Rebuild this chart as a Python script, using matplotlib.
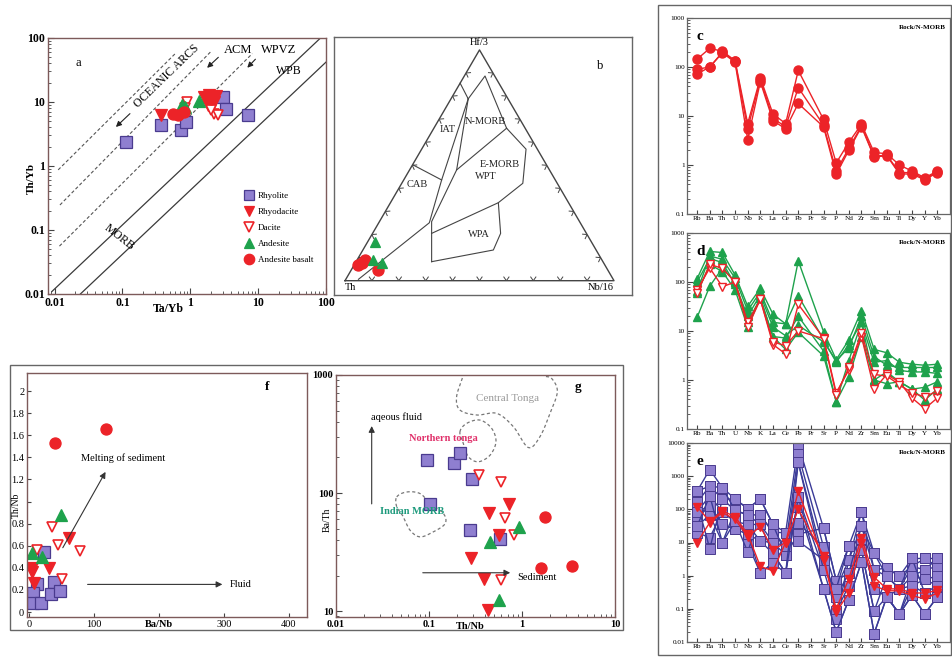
import numpy as np
import matplotlib
matplotlib.use('Agg')
import matplotlib.pyplot as plt
from matplotlib.patches import Rectangle
from matplotlib.lines import Line2D
from matplotlib.ticker import LogLocator, NullFormatter, FuncFormatter, FixedLocator

plt.rcParams['font.family'] = ['Liberation Serif', 'DejaVu Serif']

# ---------------- data ----------------
nan = np.nan

# (a) Th/Yb vs Ta/Yb
a_rhyolite_ta_yb = [0.114, 0.376, 0.72, 0.86, 3.07, 3.36, 7.0]
a_rhyolite_th_yb = [2.35, 4.4, 3.7, 4.9, 12.1, 7.7, 6.3]
a_rhyodacite_ta_yb = [0.37, 1.6, 1.9, 2.2, 1.8, 2.4]
a_rhyodacite_th_yb = [6.3, 12.0, 13.0, 10.0, 9.0, 12.5]
a_dacite_ta_yb = [0.9, 0.85, 2.2, 2.6, 2.0]
a_dacite_th_yb = [10.0, 8.0, 6.5, 6.2, 7.5]
a_andesite_ta_yb = [0.76, 1.35, 0.85]
a_andesite_th_yb = [9.0, 10.5, 8.5]
a_basalt_ta_yb = [0.55, 0.65, 0.8, 2.0]
a_basalt_th_yb = [6.6, 6.3, 7.0, 11.0]
a_array_lines = [((0.0091, 0.0109), (83.0, 100.0)), ((0.024, 0.01), (100.0, 42.0))]
a_arc_lines = [((0.0113, 0.87), (0.6, 57.0)), ((0.012, 0.246), (2.0, 61.0)), ((0.0118, 0.056), (8.2, 57.0))]

# (b) Th - Hf/3 - Nb/16 ternary (fractions Th, Hf/3, Nb/16)
b_basalt_th = [0.917, 0.881, 0.853, 0.900]
b_basalt_hf = [0.067, 0.089, 0.046, 0.075]
b_basalt_nb = [0.016, 0.030, 0.101, 0.025]
b_andesite_th = [0.805, 0.850, 0.826]
b_andesite_hf = [0.167, 0.089, 0.075]
b_andesite_nb = [0.028, 0.061, 0.099]
# field boundaries, vertices as (Th, Hf/3, Nb/16)
b_fields = [
    [(0.144, 0.856, 0.000), (0.148, 0.788, 0.064)],
    [(0.148, 0.788, 0.064), (0.4225, 0.4365, 0.141), (0.561, 0.251, 0.188), (0.947, 0.006, 0.047)],
    [(0.496, 0.5015, 0.003), (0.4225, 0.4365, 0.141)],
    [(0.148, 0.788, 0.064), (0.036, 0.887, 0.077), (0.069, 0.661, 0.2705)],
    [(0.069, 0.661, 0.2705), (0.042, 0.570, 0.388), (0.128, 0.422, 0.450), (0.261, 0.338, 0.401),
     (0.319, 0.205, 0.476), (0.382, 0.133, 0.485), (0.637, 0.0824, 0.281)],
    [(0.148, 0.788, 0.064), (0.345, 0.480, 0.175), (0.550, 0.256, 0.194), (0.637, 0.0824, 0.281)],
    [(0.069, 0.661, 0.2705), (0.345, 0.480, 0.175)],
    [(0.5755, 0.205, 0.2195), (0.261, 0.338, 0.401)],
]

# (c-e) N-MORB normalised spider diagrams
elements = ['Rb', 'Ba', 'Th', 'U', 'Nb', 'K', 'La', 'Ce', 'Pb', 'Pr',
            'Sr', 'P', 'Nd', 'Zr', 'Sm', 'Eu', 'Ti', 'Dy', 'Y', 'Yb']
c_basalt = [
    [145, 240, 210, 135, 7.0, 60, 11, 7.0, 85, nan, 8.5, 1.1, 2.9, 6.8, 1.8, 1.7, 1.0, 0.75, 0.55, 0.75],
    [90, 100, 200, 130, 5.5, 55, 9.0, 6.0, 38, nan, 6.5, 0.75, 2.2, 6.3, 1.5, 1.6, 0.70, 0.70, 0.52, 0.72],
    [72, 100, 195, 125, 3.3, 50, 8.0, 5.5, 18, nan, 6.0, 0.65, 2.0, 6.0, 1.45, 1.55, 0.66, 0.65, 0.50, 0.70],
]
d_andesite = [
    [117, 420, 400, 139, 32, 74, 22, 14, 270, nan, 9.7, 2.6, 6.6, 26, 4.2, 3.6, 2.3, 2.1, 2.0, 2.1],
    [64, 340, 290, 120, 26, 63, 15, 14, 52, nan, 6.7, 2.3, 5.3, 15, 2.3, 2.5, 1.57, 1.46, 1.46, 1.36],
    [19, 82, 193, 100, 15, 47, 7.7, 7.2, 20, nan, 3.9, 0.36, 2.5, 15, 1.0, 1.46, 0.92, 0.65, 0.71, 0.92],
    [59, 228, 163, 69, 12, 47, 7.7, 4.2, 9.4, nan, 3.1, 0.36, 1.16, 7.7, 1.0, 0.84, 0.92, 0.65, 0.39, 0.65],
    [100, 300, 250, 90, 20, 55, 12, 8.0, 13, nan, 6.0, 2.5, 4.5, 20, 3.0, 2.0, 1.8, 1.8, 1.8, 1.8],
]
d_dacite = [
    [69, 193, 80, 100, 15, 44, 5.3, 3.4, 35, nan, 7.2, 0.55, 1.6, 7.7, 0.65, 1.3, 0.9, 0.43, 0.26, 0.43],
    [59, 228, 190, 100, 12, 44, 6.0, 5.0, 10, nan, 7.0, 0.5, 1.8, 9.0, 1.3, 1.2, 0.8, 0.55, 0.45, 0.6],
]
e_rhyolite = [
    [355, 1580, 450, 205, 105, 205, 35, 20, 8900, nan, 27, 0.71, 8.0, 83, 4.7, 1.7, 0.97, 3.3, 3.3, 3.3],
    [163, 500, 205, 93, 68, 68, 20, 8.0, 4600, nan, 7.3, 0.4, 3.0, 31, 1.5, 0.97, 0.4, 1.9, 1.5, 1.9],
    [83, 257, 83, 43, 35, 35, 10, 4.2, 2600, nan, 3.0, 0.23, 1.2, 13, 0.4, 0.23, 0.07, 0.97, 0.77, 0.97],
    [53, 130, 35, 25, 18, 11, 4.7, 1.2, 230, nan, 1.5, 0.085, 0.5, 5.8, 0.085, 0.97, 0.4, 0.5, 0.3, 0.5],
    [31, 68, 10, 93, 9.0, 1.2, 2.4, 8.0, 118, nan, 0.4, 0.02, 0.19, 2.6, 0.018, 0.23, 0.07, 0.26, 0.07, 0.23],
    [20, 14, 83, 43, 5.2, 68, 20, 20, 38, nan, 7.3, 0.048, 3.0, 83, 1.5, 1.7, 0.97, 1.9, 3.3, 1.9],
    [163, 6.5, 205, 205, 105, 205, 35, 4.2, 18, nan, 27, 0.71, 1.2, 31, 4.7, 0.97, 0.4, 0.97, 1.5, 3.3],
    [83, 130, 35, 25, 35, 11, 10, 8.0, 11, nan, 3.0, 0.23, 0.5, 13, 0.4, 0.23, 0.07, 0.5, 0.77, 0.5],
    [355, 500, 450, 93, 68, 35, 4.7, 1.2, 2600, nan, 1.5, 0.4, 8.0, 5.8, 0.085, 0.23, 0.4, 3.3, 0.3, 0.23],
    [31, 257, 10, 43, 18, 1.2, 2.4, 1.2, 230, nan, 0.4, 0.02, 0.19, 2.6, 0.018, 0.23, 0.07, 0.26, 0.07, 0.23],
]
e_rhyodacite = [
    [120, 43, 90, 60, 18, 1.9, 1.4, 10, 355, nan, 3.0, 0.1, 0.8, 14, 0.9, 0.4, 0.4, 0.3, 0.3, 0.36],
    [10, 40, 80, 50, 15, 30, 6.0, 10, 100, nan, 4.0, 0.08, 0.3, 10, 0.5, 0.35, 0.35, 0.25, 0.2, 0.3],
]

# (f) Th/Nb vs Ba/Nb
f_basalt_ba_nb = [40, 118]
f_basalt_th_nb = [1.53, 1.66]
f_andesite_ba_nb = [49, 5, 19.5]
f_andesite_th_nb = [0.88, 0.53, 0.50]
f_dacite_ba_nb = [12, 36, 44, 78, 51]
f_dacite_th_nb = [0.56, 0.77, 0.61, 0.55, 0.30]
f_rhyodacite_ba_nb = [62, 31, 4, 5, 8]
f_rhyodacite_th_nb = [0.67, 0.40, 0.40, 0.36, 0.26]
f_rhyolite_ba_nb = [23.5, 13, 7, 5.5, 18, 39, 34, 48]
f_rhyolite_th_nb = [0.54, 0.25, 0.17, 0.08, 0.08, 0.27, 0.16, 0.19]

# (g) Ba/Th vs Th/Nb
g_rhyolite_th_nb = [0.096, 0.186, 0.215, 0.288, 0.103, 0.276, 0.58]
g_rhyolite_ba_th = [192, 180, 219, 131, 81, 49, 40.6]
g_dacite_th_nb = [0.347, 0.59, 0.66, 0.82, 0.60]
g_dacite_ba_th = [142, 123, 61, 44, 18.2]
g_rhyodacite_th_nb = [0.73, 0.44, 0.57, 0.28, 0.39, 0.43]
g_rhyodacite_ba_th = [81, 68, 44, 28.4, 18.5, 10.3]
g_andesite_th_nb = [0.92, 0.45, 0.57]
g_andesite_ba_th = [52, 38.6, 12.5]
g_basalt_th_nb = [1.77, 1.6, 3.47]
g_basalt_ba_th = [63, 23.3, 23.9]
g_central_tonga_x = [0.25, 0.234, 0.198, 0.215, 0.326, 0.535, 0.807, 1.17, 1.56, 2.0, 2.4, 2.08, 1.69, 1.6]
g_central_tonga_y = [1300, 1000, 655, 505, 458, 473, 365, 243, 300, 473, 723, 937, 1000, 1300]
g_northern_tonga_x = [0.215, 0.254, 0.353, 0.472, 0.525, 0.453, 0.339, 0.265, 0.234]
g_northern_tonga_y = [330, 389, 415, 353, 272, 209, 184, 203, 263]
g_indian_morb_x = [0.045, 0.0575, 0.080, 0.103, 0.143, 0.149, 0.111, 0.080, 0.0625, 0.053, 0.045]
g_indian_morb_y = [92.7, 102, 99, 81.5, 67, 55, 46.8, 42.5, 48.4, 62.8, 76.4]

# ---------------- styles ----------------
PURPLE = '#8f7fd0'
PURPLE_EDGE = '#4a3b8f'
RED = '#ec2328'
GREEN = '#1ea24c'
NAVY = '#3b3b98'
SPINE = '#7d5a5a'

W, H = 952, 662
fig = plt.figure(figsize=(W / 100, H / 100), dpi=100)
fig.patch.set_facecolor('white')


def rect(x0, y0, x1, y1):
    return [x0 / W, 1 - y1 / H, (x1 - x0) / W, (y1 - y0) / H]


def style_spines(ax, color=SPINE, lw=1.0):
    for s in ax.spines.values():
        s.set_color(color)
        s.set_linewidth(lw)


def sym(kind):
    if kind == 'rhyolite':
        return dict(marker='s', mfc=PURPLE, mec=PURPLE_EDGE, mew=0.9)
    if kind == 'rhyodacite':
        return dict(marker='v', mfc=RED, mec=RED, mew=0.9)
    if kind == 'dacite':
        return dict(marker='v', mfc='white', mec=RED, mew=1.2)
    if kind == 'andesite':
        return dict(marker='^', mfc=GREEN, mec=GREEN, mew=0.9)
    return dict(marker='o', mfc=RED, mec=RED, mew=0.9)


def smooth(xs, ys, closed=False, n=16):
    # Catmull-Rom curve through the vertices, computed in log space
    P = np.column_stack([np.log10(xs), np.log10(ys)])
    if closed:
        P = np.vstack([P[-1], P, P[0], P[1]])
    else:
        P = np.vstack([P[0], P, P[-1]])
    out = []
    for i in range(1, len(P) - 2):
        p0, p1, p2, p3 = P[i - 1], P[i], P[i + 1], P[i + 2]
        for t in np.linspace(0, 1, n, endpoint=False):
            t2, t3 = t * t, t * t * t
            out.append(0.5 * ((2 * p1) + (-p0 + p2) * t + (2 * p0 - 5 * p1 + 4 * p2 - p3) * t2
                              + (-p0 + 3 * p1 - 3 * p2 + p3) * t3))
    out.append(P[-2])
    out = np.array(out)
    return 10 ** out[:, 0], 10 ** out[:, 1]


# outer frames
fig.patches.append(Rectangle((10, H - 630), 613, 265, transform=None, fill=False,
                             ec='#666666', lw=1.0))
fig.patches.append(Rectangle((658, H - 655), 293, 650, transform=None, fill=False,
                             ec='#666666', lw=1.0))

# ================= panel a =================
axa = fig.add_axes(rect(48, 38, 326, 294))
axa.set_xscale('log')
axa.set_yscale('log')
axa.set_xlim(0.008, 100)
axa.set_ylim(0.01, 100)
style_spines(axa)
for (x0, y0), (x1, y1) in a_array_lines:
    axa.plot([x0, x1], [y0, y1], color='#3a3a3a', lw=0.9)
for (x0, y0), (x1, y1) in a_arc_lines:
    axa.plot([x0, x1], [y0, y1], color='#555555', lw=0.8, ls=(0, (3, 2)))
axa.plot(a_rhyolite_ta_yb, a_rhyolite_th_yb, ls='none', ms=8, **sym('rhyolite'))
axa.plot(a_rhyodacite_ta_yb, a_rhyodacite_th_yb, ls='none', ms=8, **sym('rhyodacite'))
axa.plot(a_dacite_ta_yb, a_dacite_th_yb, ls='none', ms=7.5, **sym('dacite'))
axa.plot(a_andesite_ta_yb, a_andesite_th_yb, ls='none', ms=8, **sym('andesite'))
axa.plot(a_basalt_ta_yb, a_basalt_th_yb, ls='none', ms=8, **sym('basalt'))
axa.xaxis.set_major_locator(FixedLocator([0.01, 0.1, 1, 10, 100]))
axa.xaxis.set_major_formatter(FuncFormatter(lambda v, p: '%g' % v))
axa.yaxis.set_major_locator(FixedLocator([0.01, 0.1, 1, 10, 100]))
axa.yaxis.set_major_formatter(FuncFormatter(lambda v, p: '%g' % v))
for ax_ in (axa.xaxis, axa.yaxis):
    ax_.set_minor_locator(LogLocator(base=10, subs=np.arange(2, 10)))
    ax_.set_minor_formatter(NullFormatter())
axa.tick_params(which='both', direction='in', labelsize=8.5, pad=2, color='#444444')
axa.tick_params(which='major', length=4)
axa.tick_params(which='minor', length=2)
for lab in axa.get_xticklabels() + axa.get_yticklabels():
    lab.set_fontweight('bold')
axa.text(0.49, -0.035, 'Ta/Yb', transform=axa.transAxes, ha='right', va='top',
         fontsize=8.5, fontweight='bold')
axa.text(-0.045, 0.45, 'Th/Yb', transform=axa.transAxes, rotation=90, ha='right',
         va='center', fontsize=8, fontweight='bold')
axa.text(0.108, 0.902, 'a', transform=axa.transAxes, fontsize=9, ha='center', va='center')
axa.text(0.428, 0.852, 'OCEANIC ARCS', transform=axa.transAxes, fontsize=8.5,
         rotation=44, ha='center', va='center')
axa.text(0.683, 0.953, 'ACM', transform=axa.transAxes, fontsize=9, ha='center', va='center')
axa.text(0.83, 0.953, 'WPVZ', transform=axa.transAxes, fontsize=9, ha='center', va='center')
axa.text(0.865, 0.873, 'WPB', transform=axa.transAxes, fontsize=8.5, ha='center', va='center')
axa.text(0.255, 0.222, 'MORB', transform=axa.transAxes, fontsize=8.5, rotation=-38,
         ha='center', va='center')
for (x0, y0), (x1, y1) in [((0.302, 0.712), (0.237, 0.645)),
                           ((0.62, 0.932), (0.565, 0.876)),
                           ((0.753, 0.925), (0.71, 0.876))]:
    axa.annotate('', xy=(x1, y1), xytext=(x0, y0), xycoords='axes fraction',
                 arrowprops=dict(arrowstyle='-|>', color='#222222', lw=0.8,
                                 mutation_scale=8))
handles = [Line2D([], [], ls='none', ms=7.5, label='Rhyolite', **sym('rhyolite')),
           Line2D([], [], ls='none', ms=7.5, label='Rhyodacite', **sym('rhyodacite')),
           Line2D([], [], ls='none', ms=7.5, label='Dacite', **sym('dacite')),
           Line2D([], [], ls='none', ms=7.5, label='Andesite', **sym('andesite')),
           Line2D([], [], ls='none', ms=7.5, label='Andesite basalt', **sym('basalt'))]
axa.legend(handles=handles, loc='upper left', bbox_to_anchor=(0.69, 0.415), frameon=False,
           fontsize=6.5, handletextpad=0.4, labelspacing=0.85, borderaxespad=0,
           handlelength=1.2)

# ================= panel b =================
axb = fig.add_axes(rect(334, 37, 632, 295))
axb.set_xlim(-0.0409, 1.0669)
axb.set_ylim(-0.062, 1.056)
axb.set_xticks([])
axb.set_yticks([])
style_spines(axb, '#666666', 1.0)
PXX, PXY = 269.0, 230.7


def tern(th, hf, nb):
    th, hf, nb = np.asarray(th, float), np.asarray(hf, float), np.asarray(nb, float)
    s = th + hf + nb
    hf, nb = hf / s, nb / s
    return nb + hf / 2, hf


axb.plot([0, 1, 0.5, 0], [0, 0, 1, 0], color='#444444', lw=1.0)
for poly in b_fields:
    x, y = tern(*zip(*poly))
    axb.plot(x, y, color='#444444', lw=0.8)
# chevron ticks along the sides
sides = [((0, 0), (1, 0)), ((0, 0), (0.5, 1)), ((1, 0), (0.5, 1))]
centroid = np.array([0.5, 1 / 3])
for (ax0, ay0), (ax1, ay1) in sides:
    d = np.array([(ax1 - ax0) * PXX, (ay1 - ay0) * PXY])
    d /= np.hypot(*d)
    nrm = np.array([-d[1], d[0]])
    mid = np.array([(ax0 + ax1) / 2 * PXX, (ay0 + ay1) / 2 * PXY])
    if np.dot(centroid * [PXX, PXY] - mid, nrm) < 0:
        nrm = -nrm
    for t in np.arange(1, 10) / 10:
        p = np.array([ax0 + (ax1 - ax0) * t, ay0 + (ay1 - ay0) * t])
        for ang in (35, -35):
            a = np.deg2rad(ang)
            v = np.array([nrm[0] * np.cos(a) - nrm[1] * np.sin(a),
                          nrm[0] * np.sin(a) + nrm[1] * np.cos(a)]) * 4.5
            axb.plot([p[0] + v[0] / PXX * 0.2, p[0] + v[0] / PXX],
                     [p[1] + v[1] / PXY * 0.2, p[1] + v[1] / PXY], color='#444444', lw=0.7)
bx, by = tern(b_basalt_th, b_basalt_hf, b_basalt_nb)
axb.plot(bx, by, ls='none', ms=8, **sym('basalt'))
bx, by = tern(b_andesite_th, b_andesite_hf, b_andesite_nb)
axb.plot(bx, by, ls='none', ms=7.5, **sym('andesite'))
tk = dict(fontsize=7.5, ha='center', va='center', color='#222222')
axb.text(0.5, 1.012, 'Hf/3', fontsize=7.5, ha='center', va='bottom')
axb.text(0.0, -0.012, 'Th', fontsize=7.5, ha='left', va='top')
axb.text(1.0, -0.012, 'Nb/16', fontsize=7.5, ha='right', va='top')
axb.text(0.948, 0.931, 'b', fontsize=9, ha='center', va='center')
axb.text(0.383, 0.653, 'IAT', **tk)
axb.text(0.52, 0.692, 'N-MORB', **tk)
axb.text(0.575, 0.505, 'E-MORB', **tk)
axb.text(0.525, 0.452, 'WPT', **tk)
axb.text(0.27, 0.415, 'CAB', **tk)
axb.text(0.498, 0.202, 'WPA', **tk)

# ================= panels c, d, e =================
idx = np.arange(len(elements))


def spider(rect_px, samples_styles, ylim, letter):
    ax = fig.add_axes(rect(*rect_px))
    ax.set_yscale('log')
    ax.set_xlim(-0.8, 20.0)
    ax.set_ylim(*ylim)
    style_spines(ax, '#666666', 0.9)
    for samples, color, mk, ms in samples_styles:
        for s in samples:
            v = np.asarray(s, float)
            ok = ~np.isnan(v)
            ax.plot(idx[ok], v[ok], color=color, lw=1.0, ms=ms, **mk)
    ax.set_xticks(idx)
    ax.set_xticklabels(elements, fontsize=5.2)
    decades = 10.0 ** np.arange(np.log10(ylim[0]), np.log10(ylim[1]) + 1)
    ax.yaxis.set_major_locator(FixedLocator(decades))
    ax.yaxis.set_major_formatter(FuncFormatter(lambda v, p: '%g' % v))
    ax.yaxis.set_minor_locator(LogLocator(base=10, subs=np.arange(2, 10)))
    ax.yaxis.set_minor_formatter(NullFormatter())
    ax.tick_params(which='both', direction='in', labelsize=5.2, pad=1.5, color='#444444')
    ax.tick_params(axis='x', length=3, pad=1.5)
    ax.tick_params(axis='y', which='major', length=4)
    ax.tick_params(axis='y', which='minor', length=2)
    ax.text(0.985, 0.965, 'Rock/N-MORB', transform=ax.transAxes, fontsize=5,
            ha='right', va='top', fontweight='bold')
    ax.text(0.05, 0.94, letter, transform=ax.transAxes, fontsize=11, fontweight='bold',
            ha='center', va='top')
    return ax


spider((687, 18, 950, 214),
       [(c_basalt, RED, dict(marker='o', mfc=RED, mec=RED), 6.5)], (0.1, 1000), 'c')
spider((687, 233, 950, 429),
       [(d_andesite, GREEN, dict(marker='^', mfc=GREEN, mec=GREEN), 6),
        (d_dacite, RED, dict(marker='v', mfc='white', mec=RED, mew=1.0), 6)],
       (0.1, 1000), 'd')
spider((687, 443, 950, 642),
       [(e_rhyolite, NAVY, dict(marker='s', mfc=PURPLE, mec=PURPLE_EDGE, mew=0.7), 6.5),
        (e_rhyodacite, RED, dict(marker='v', mfc=RED, mec=RED), 6)],
       (0.01, 10000), 'e')

# ================= panel f =================
axf = fig.add_axes(rect(27, 373, 307, 617))
axf.set_xlim(-3, 428)
axf.set_ylim(-0.045, 2.163)
style_spines(axf)
axf.plot(f_rhyolite_ba_nb, f_rhyolite_th_nb, ls='none', ms=8, **sym('rhyolite'))
axf.plot(f_rhyodacite_ba_nb, f_rhyodacite_th_nb, ls='none', ms=8, **sym('rhyodacite'))
axf.plot(f_dacite_ba_nb, f_dacite_th_nb, ls='none', ms=7.5, **sym('dacite'))
axf.plot(f_andesite_ba_nb, f_andesite_th_nb, ls='none', ms=8, **sym('andesite'))
axf.plot(f_basalt_ba_nb, f_basalt_th_nb, ls='none', ms=8, **sym('basalt'))
f_yticks = np.round(np.arange(0, 2.01, 0.2), 1)
axf.set_yticks(f_yticks)
axf.set_yticklabels(['' if v == 1.0 else '%g' % v for v in f_yticks])
axf.set_xticks([0, 100, 200, 300, 400])
axf.set_xticklabels(['0', '100', 'Ba/Nb', '300', '400'])
axf.get_xticklabels()[2].set_fontweight('bold')
axf.tick_params(direction='in', labelsize=7.5, pad=2, length=3, color='#444444')
fig.text(16 / W, 1 - 505 / H, 'Th/Nb', rotation=90, fontsize=7, ha='center', va='center')
axf.annotate('', xy=(120, 1.29), xytext=(50, 0.56),
             arrowprops=dict(arrowstyle='-|>', color='#333333', lw=0.8, mutation_scale=9))
axf.annotate('', xy=(302, 0.25), xytext=(86, 0.25),
             arrowprops=dict(arrowstyle='-|>', color='#333333', lw=0.8, mutation_scale=9))
axf.text(145, 1.39, 'Melting of sediment', fontsize=7.5, ha='center', va='center')
axf.text(309, 0.25, 'Fluid', fontsize=7.5, ha='left', va='center')
axf.text(0.857, 0.943, 'f', transform=axf.transAxes, fontsize=9.5, fontweight='bold',
         ha='center', va='center')

# ================= panel g =================
axg = fig.add_axes(rect(336, 375, 615, 617))
axg.set_xscale('log')
axg.set_yscale('log')
axg.set_xlim(0.01, 10)
axg.set_ylim(8.9, 1000)
style_spines(axg)
for xs, ys, closed in [(g_central_tonga_x, g_central_tonga_y, False),
                       (g_northern_tonga_x, g_northern_tonga_y, True),
                       (g_indian_morb_x, g_indian_morb_y, True)]:
    cx, cy = smooth(xs, ys, closed=closed)
    axg.plot(cx, cy, color='#777777', lw=0.9, ls=(0, (2.5, 2)))
axg.plot(g_rhyolite_th_nb, g_rhyolite_ba_th, ls='none', ms=8, **sym('rhyolite'))
axg.plot(g_rhyodacite_th_nb, g_rhyodacite_ba_th, ls='none', ms=8, **sym('rhyodacite'))
axg.plot(g_dacite_th_nb, g_dacite_ba_th, ls='none', ms=7.5, **sym('dacite'))
axg.plot(g_andesite_th_nb, g_andesite_ba_th, ls='none', ms=8, **sym('andesite'))
axg.plot(g_basalt_th_nb, g_basalt_ba_th, ls='none', ms=8, **sym('basalt'))
axg.xaxis.set_major_locator(FixedLocator([0.01, 0.1, 1, 10]))
axg.xaxis.set_major_formatter(FuncFormatter(lambda v, p: '%g' % v))
axg.yaxis.set_major_locator(FixedLocator([10, 100, 1000]))
axg.yaxis.set_major_formatter(FuncFormatter(lambda v, p: '%g' % v))
for ax_ in (axg.xaxis, axg.yaxis):
    ax_.set_minor_locator(LogLocator(base=10, subs=np.arange(2, 10)))
    ax_.set_minor_formatter(NullFormatter())
axg.tick_params(which='both', direction='in', labelsize=7.5, pad=2, color='#444444')
axg.tick_params(which='major', length=4)
axg.tick_params(which='minor', length=2)
for lab in axg.get_xticklabels() + axg.get_yticklabels():
    lab.set_fontweight('bold')
axg.text(0.276, -0.02, 'Th/Nb', transform=axg.get_xaxis_transform(), ha='center',
         va='top', fontsize=7.5, fontweight='bold')
fig.text(327 / W, 1 - 520 / H, 'Ba/Th', rotation=90, fontsize=7, ha='center', va='center')
axg.annotate('', xy=(0.0242, 390), xytext=(0.0242, 76.6),
             arrowprops=dict(arrowstyle='-|>', color='#333333', lw=0.8, mutation_scale=9))
axg.annotate('', xy=(0.80, 21.1), xytext=(0.08, 21.1),
             arrowprops=dict(arrowstyle='-|>', color='#333333', lw=0.8, mutation_scale=9))
axg.text(0.045, 440, 'aqeous fluid', fontsize=7.5, ha='center', va='center')
axg.text(0.88, 19.4, 'Sediment', fontsize=7.5, ha='left', va='center')
axg.text(0.141, 287, 'Northern tonga', fontsize=7.5, color='#e0306a', fontweight='bold',
         ha='center', va='center')
axg.text(0.0657, 70.4, 'Indian MORB', fontsize=7.5, color='#1d9a7c', fontweight='bold',
         ha='center', va='center')
axg.text(0.707, 638, 'Central Tonga', fontsize=8, color='#9a9a9a', ha='center', va='center')
axg.text(0.867, 0.95, 'g', transform=axg.transAxes, fontsize=9.5, fontweight='bold',
         ha='center', va='center')

fig.savefig('out.png', dpi=100, facecolor='white')
